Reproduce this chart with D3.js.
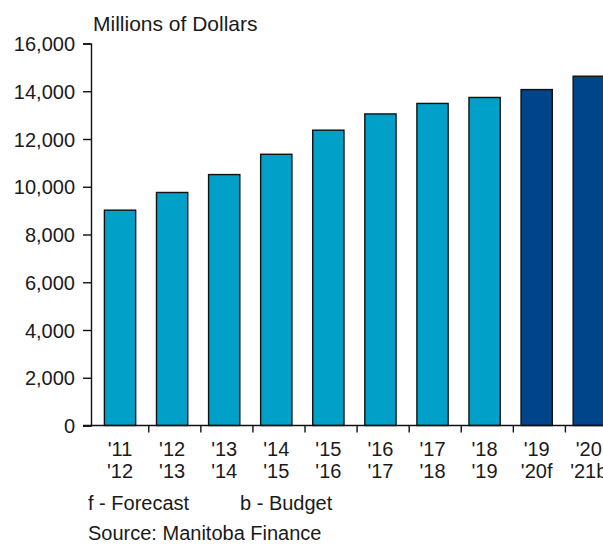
<!DOCTYPE html>
<html>
<head>
<meta charset="utf-8" />
<script src="https://cdn.jsdelivr.net/npm/d3@7"></script>
<style>
  body { margin: 0; background: #fff; }
  svg text { font-family: "Liberation Sans", Arial, sans-serif; fill: #1a1a1a; }
</style>
</head>
<body>
<svg width="603" height="544"></svg>
<script>
// fiscal years, two label lines each
var yearsTop = ["'11", "'12", "'13", "'14", "'15", "'16", "'17", "'18", "'19", "'20"];
var yearsBottom = ["'12", "'13", "'14", "'15", "'16", "'17", "'18", "'19", "'20f", "'21b"];
// millions of dollars
var values = [9020, 9760, 10510, 11360, 12370, 13050, 13490, 13740, 14070, 14630];
// actual / forecast / budget
var kind = ["a", "a", "a", "a", "a", "a", "a", "a", "f", "b"];
var yTicks = [0, 2000, 4000, 6000, 8000, 10000, 12000, 14000, 16000];

var svg = d3.select("svg");

var y = d3.scaleLinear().domain([0, 16000]).range([425.5, 43.5]);

// bars
var x = d3.scaleBand().domain(yearsBottom).range([94, 614.8])
    .paddingInner(0.4).paddingOuter(0.2);
// category boundaries for the bottom ticks
var xb = d3.scaleBand().domain(yearsBottom).range([96.7, 617.5]);

var color = function (k) { return k == "a" ? "#00a0c8" : "#00448a"; };

svg.selectAll("rect.bar").data(values).enter().append("rect")
    .attr("class", "bar")
    .attr("x", function (d, i) { return x(yearsBottom[i]); })
    .attr("y", function (d) { return y(d); })
    .attr("width", x.bandwidth())
    .attr("height", function (d) { return y(0) - y(d); })
    .attr("fill", function (d, i) { return color(kind[i]); })
    .attr("stroke", "#111")
    .attr("stroke-width", 1.4);

// y axis
var yAxis = d3.axisLeft(y).tickValues(yTicks).tickSize(8).tickPadding(8)
    .tickFormat(d3.format(","));
var gy = svg.append("g").attr("transform", "translate(91,0)").call(yAxis);
gy.select(".domain").attr("stroke", "#111").attr("stroke-width", 1.4);
gy.selectAll(".tick line").attr("stroke", "#111").attr("stroke-width", 1.4);
gy.selectAll(".tick text").style("font-size", "20px").attr("dy", "0.36em");

// x axis line
svg.append("line")
    .attr("x1", 83).attr("x2", 603)
    .attr("y1", y(0)).attr("y2", y(0))
    .attr("stroke", "#111").attr("stroke-width", 1.4);

// ticks between categories
svg.selectAll("line.xt").data(yearsBottom.slice(0, -1)).enter().append("line")
    .attr("class", "xt")
    .attr("x1", function (d) { return xb(d) + xb.step(); })
    .attr("x2", function (d) { return xb(d) + xb.step(); })
    .attr("y1", y(0)).attr("y2", y(0) + 7)
    .attr("stroke", "#111").attr("stroke-width", 1.4);

// x labels
var lab = svg.selectAll("text.xl").data(yearsBottom).enter().append("text")
    .attr("class", "xl")
    .attr("text-anchor", "middle")
    .style("font-size", "20px");
lab.append("tspan")
    .attr("x", function (d) { return x(d) + x.bandwidth() / 2; })
    .attr("y", 456)
    .text(function (d, i) { return yearsTop[i]; });
lab.append("tspan")
    .attr("x", function (d) { return x(d) + x.bandwidth() / 2; })
    .attr("y", 478)
    .text(function (d) { return d; });

// titles and notes
svg.append("text").attr("x", 93).attr("y", 31).style("font-size", "21px")
    .text("Millions of Dollars");
svg.append("text").attr("x", 88).attr("y", 510).style("font-size", "20px")
    .text("f - Forecast");
svg.append("text").attr("x", 240).attr("y", 510).style("font-size", "20px")
    .text("b - Budget");
svg.append("text").attr("x", 88).attr("y", 540).style("font-size", "20px")
    .text("Source: Manitoba Finance");
</script>
</body>
</html>
